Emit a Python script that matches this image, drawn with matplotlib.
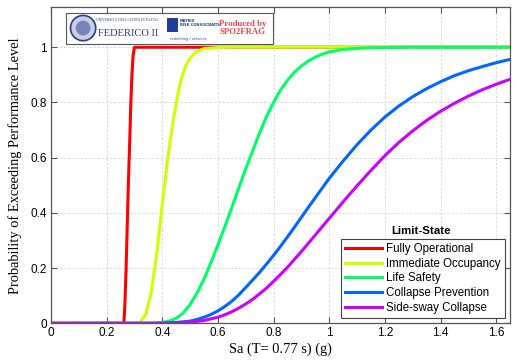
import numpy as np
import matplotlib.pyplot as plt
from matplotlib.patches import Rectangle, Ellipse
from matplotlib.ticker import FormatStrFormatter

# Fragility curves (Sa in g, probability of exceedance)
fo_sa = [0.0, 0.262, 0.266, 0.270, 0.274, 0.278, 0.283, 0.287, 0.291, 0.295, 0.300, 1.65]
fo_p = [0.0, 0.0, 0.08, 0.20, 0.35, 0.50, 0.66, 0.80, 0.90, 0.97, 1.0, 1.0]

io_sa = [0.0, 0.30, 0.32, 0.34, 0.36, 0.38, 0.40, 0.42, 0.44, 0.46, 0.47, 0.48, 0.49, 0.50,
         0.51, 0.52, 0.55, 0.60, 0.65, 1.65]
io_p = [0.0, 0.0, 0.003, 0.03, 0.11, 0.25, 0.43, 0.60, 0.74, 0.85, 0.89, 0.92, 0.943, 0.96,
        0.972, 0.982, 0.995, 0.999, 1.0, 1.0]

ls_sa = [0.0, 0.35, 0.375, 0.40, 0.425, 0.45, 0.475, 0.50, 0.525, 0.55, 0.575, 0.60, 0.625,
         0.65, 0.675, 0.70, 0.725, 0.75, 0.775, 0.80, 0.825, 0.85, 0.875, 0.90, 0.925, 0.95,
         0.975, 1.00, 1.05, 1.10, 1.15, 1.20, 1.30, 1.65]
ls_p = [0.0, 0.0, 0.001, 0.003, 0.008, 0.018, 0.037, 0.068, 0.11, 0.16, 0.22, 0.285, 0.35,
        0.42, 0.49, 0.56, 0.625, 0.69, 0.75, 0.80, 0.845, 0.88, 0.91, 0.932, 0.95, 0.964,
        0.975, 0.983, 0.992, 0.996, 0.998, 0.999, 1.0, 1.0]

cp_sa = [0.0, 0.40, 0.45, 0.50, 0.525, 0.55, 0.575, 0.60, 0.625, 0.65, 0.675, 0.70, 0.725,
         0.75, 0.775, 0.80, 0.825, 0.85, 0.875, 0.90, 0.925, 0.95, 0.975, 1.00, 1.05, 1.10,
         1.15, 1.20, 1.25, 1.30, 1.35, 1.40, 1.45, 1.50, 1.55, 1.60, 1.65]
cp_p = [0.0, 0.0005, 0.003, 0.008, 0.014, 0.022, 0.032, 0.045, 0.061, 0.08, 0.103, 0.13,
        0.157, 0.185, 0.215, 0.246, 0.279, 0.313, 0.348, 0.384, 0.42, 0.455, 0.49, 0.525,
        0.588, 0.647, 0.70, 0.747, 0.787, 0.821, 0.85, 0.875, 0.897, 0.915, 0.93, 0.944, 0.956]

sc_sa = [0.0, 0.40, 0.45, 0.50, 0.55, 0.60, 0.625, 0.65, 0.675, 0.70, 0.725, 0.75, 0.775,
         0.80, 0.825, 0.85, 0.90, 0.95, 1.00, 1.05, 1.10, 1.15, 1.20, 1.25, 1.30, 1.35, 1.40,
         1.45, 1.50, 1.55, 1.60, 1.65]
sc_p = [0.0, 0.0, 0.001, 0.004, 0.01, 0.022, 0.031, 0.042, 0.055, 0.07, 0.087, 0.107, 0.128,
        0.152, 0.177, 0.203, 0.26, 0.32, 0.38, 0.44, 0.498, 0.554, 0.607, 0.655, 0.697,
        0.735, 0.768, 0.797, 0.823, 0.846, 0.866, 0.884]

labels = ["Fully Operational", "Immediate Occupancy", "Life Safety",
          "Collapse Prevention", "Side-sway Collapse"]
colors = [(1, 0, 0), (0.8, 1, 0), (0, 1, 0.4), (0, 0.4, 1), (0.8, 0, 1)]
curves = [(fo_sa, fo_p), (io_sa, io_p), (ls_sa, ls_p), (cp_sa, cp_p), (sc_sa, sc_p)]

fig = plt.figure(figsize=(5.17, 3.61), dpi=100)
ax = fig.add_axes([0.0986, 0.1044, 0.888, 0.8756])

for (sa, p), c, lbl in zip(curves, colors, labels):
    ax.plot(sa, p, color=c, linewidth=2.2, label=lbl, solid_joinstyle='round')

ax.set_xlim(0, 1.65)
ax.set_ylim(0, 1.145)
ax.set_xticks(np.arange(0, 1.61, 0.2))
ax.set_yticks(np.arange(0, 1.01, 0.2))
ax.xaxis.set_major_formatter(FormatStrFormatter('%g'))
ax.yaxis.set_major_formatter(FormatStrFormatter('%g'))
ax.tick_params(direction='in', length=4, width=0.8, top=True, right=True,
               labelsize=8.5, color='#555555', pad=3)
for lab in ax.get_xticklabels() + ax.get_yticklabels():
    lab.set_family('Liberation Sans')
for s in ax.spines.values():
    s.set_color('#555555')
    s.set_linewidth(0.9)
ax.grid(True, color='#d4d4d4', linestyle=(0, (3, 2)), linewidth=0.6)
ax.set_axisbelow(True)

ax.set_xlabel("Sa (T= 0.77 s) (g)", family='Liberation Serif', fontsize=10.4, labelpad=2)
ax.set_ylabel("Probability of Exceeding Performance Level", family='Liberation Serif',
              fontsize=10.4, labelpad=6)

leg = ax.legend(loc='lower right', bbox_to_anchor=(0.989, 0.016), borderaxespad=0,
                fancybox=False, edgecolor='#404040', framealpha=1,
                prop={'family': 'Liberation Sans', 'size': 8.3},
                handlelength=3.2, handletextpad=0.4, labelspacing=0.25,
                borderpad=0.35)
leg.get_frame().set_linewidth(0.8)
ax.text(0.807, 0.293, "Limit-State", transform=ax.transAxes, ha='center', va='center',
        family='Liberation Sans', fontsize=8.2, fontweight='bold')

# logo banner in the upper left corner
ax.add_patch(Rectangle((0.033, 0.885), 0.451, 0.098, transform=ax.transAxes,
                       facecolor='white', edgecolor='#555555', linewidth=0.8, zorder=5))
ax.add_patch(Ellipse((0.07, 0.934), 0.055, 0.08, transform=ax.transAxes,
                     facecolor='#c9cde6', edgecolor='#2e3c80', linewidth=1.2, zorder=6))
ax.add_patch(Ellipse((0.07, 0.934), 0.032, 0.047, transform=ax.transAxes,
                     facecolor='#7a84b8', edgecolor='none', zorder=6))
ax.text(0.167, 0.958, "UNIVERSITÀ DEGLI STUDI DI NAPOLI", transform=ax.transAxes,
        ha='center', va='center', fontsize=2.6, color='#2e3c80',
        family='Liberation Serif', zorder=7)
ax.text(0.167, 0.918, "FEDERICO II", transform=ax.transAxes, ha='center', va='center',
        fontsize=7.6, color='#2e3c80', family='Liberation Serif', zorder=7)
ax.add_patch(Rectangle((0.253, 0.922), 0.024, 0.044, transform=ax.transAxes,
                       facecolor='#1f3f99', edgecolor='none', zorder=6))
ax.text(0.281, 0.95, "MATRIX\nRISK CONSULTANTS", transform=ax.transAxes, ha='left',
        va='center', fontsize=2.6, color='#1f3f99', fontweight='bold',
        linespacing=0.9, zorder=7)
ax.text(0.3, 0.9, "redefining / services", transform=ax.transAxes, ha='center',
        va='center', fontsize=2.6, color='#1f3f99', fontstyle='italic', zorder=7)
ax.text(0.418, 0.934, "Produced by\nSPO2FRAG", transform=ax.transAxes, ha='center',
        va='center', fontsize=6.3, color='#e8474a', fontweight='bold',
        family='Liberation Serif', linespacing=1.1, zorder=7)

plt.savefig("out.png", dpi=100)
